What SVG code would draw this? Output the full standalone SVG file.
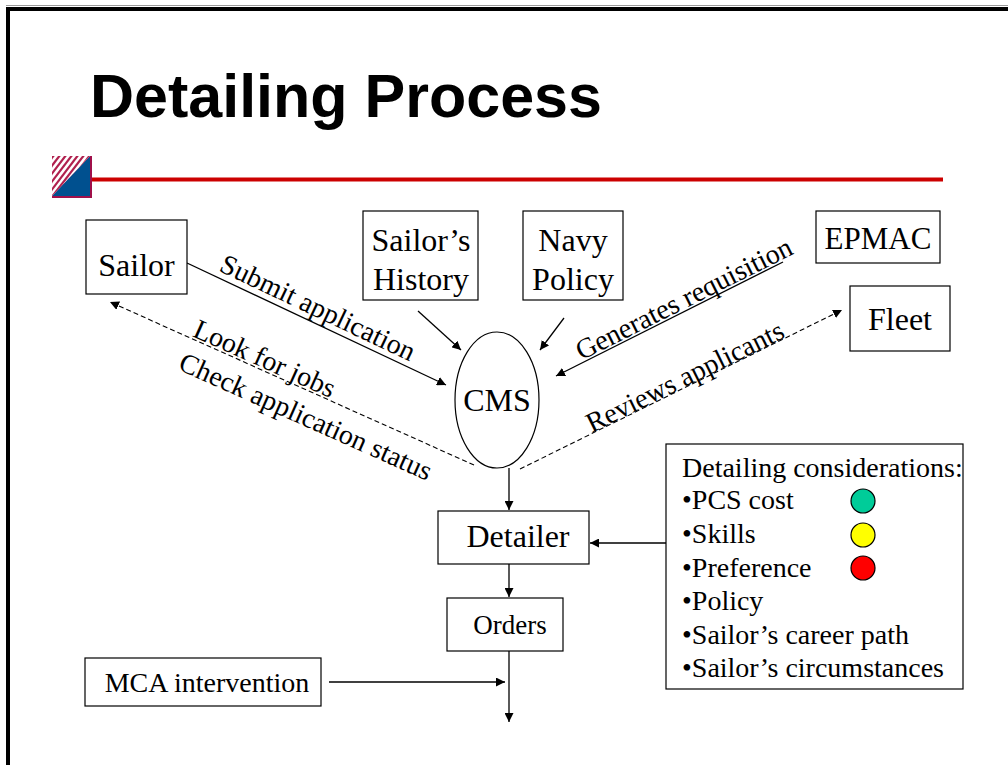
<svg xmlns="http://www.w3.org/2000/svg" width="1008" height="765" viewBox="0 0 1008 765">
<style>
.box{fill:#fff;stroke:#000;stroke-width:1.2}
.t{font-family:"Liberation Serif","Times New Roman",serif;fill:#000}
.c{stroke:#000;stroke-width:1.3;fill:none}
.d{stroke:#000;stroke-width:1.1;fill:none;stroke-dasharray:5 3}
</style>
<defs>
<marker id="ah" viewBox="0 0 10 10" refX="10" refY="5" markerWidth="9" markerHeight="9" markerUnits="userSpaceOnUse" orient="auto">
<path d="M0,0 L10,5 L0,10 z" fill="#000"/>
</marker>
<clipPath id="tri"><path d="M52,156 L90,156 L52,196 z"/></clipPath>
</defs>
<rect width="1008" height="765" fill="#fff"/>
<g id="frame">
<line x1="6" y1="5.5" x2="1008" y2="5.5" stroke="#999" stroke-width="1"/>
<line x1="6" y1="9" x2="1008" y2="9" stroke="#000" stroke-width="4"/>
<line x1="8" y1="7" x2="8" y2="765" stroke="#000" stroke-width="4"/>
</g>
<g id="title">
<text x="90" y="117" font-family="Liberation Sans,Arial,sans-serif" font-weight="bold" font-size="61" fill="#000">Detailing Process</text>
</g>
<g id="logo">
<rect x="52" y="156" width="40" height="42" fill="#a0104a"/>
<path d="M52,196 L90,156 L90,196 z" fill="#00508f"/>
<rect x="52" y="156" width="38" height="40" fill="#fff" clip-path="url(#tri)"/>
<g clip-path="url(#tri)" stroke="#b0204e" stroke-width="2.2">
<line x1="44" y1="168" x2="58" y2="150"/>
<line x1="44" y1="176" x2="64" y2="150"/>
<line x1="44" y1="184" x2="70" y2="150"/>
<line x1="44" y1="192" x2="76" y2="150"/>
<line x1="44" y1="200" x2="82" y2="150"/>
<line x1="48" y1="202" x2="88" y2="150"/>
<line x1="54" y1="202" x2="94" y2="150"/>
<line x1="60" y1="202" x2="100" y2="150"/>
</g>
<line x1="92" y1="179.5" x2="943" y2="179.5" stroke="#cc0000" stroke-width="4"/>
</g>
<g id="connectors">
<line class="c" x1="187" y1="263" x2="446" y2="385" marker-end="url(#ah)"/>
<line class="d" x1="474" y1="465" x2="110" y2="302" marker-end="url(#ah)"/>
<line class="c" x1="418" y1="311" x2="461" y2="350" marker-end="url(#ah)"/>
<line class="c" x1="564" y1="318" x2="540" y2="350" marker-end="url(#ah)"/>
<line class="c" x1="783" y1="262" x2="556" y2="376" marker-end="url(#ah)"/>
<line class="d" x1="520" y1="469" x2="842" y2="310" marker-end="url(#ah)"/>
<line class="c" x1="509" y1="468" x2="509" y2="510" marker-end="url(#ah)"/>
<line class="c" x1="666" y1="543" x2="590" y2="543" marker-end="url(#ah)"/>
<line class="c" x1="509" y1="564" x2="509" y2="597" marker-end="url(#ah)"/>
<line class="c" x1="509" y1="651" x2="509" y2="722" marker-end="url(#ah)"/>
<line class="c" x1="329" y1="682" x2="505" y2="682" marker-end="url(#ah)"/>
<text class="t" font-size="28" text-anchor="middle" transform="translate(314,316) rotate(25.4)">Submit application</text>
<text class="t" font-size="28" text-anchor="middle" transform="translate(261,367) rotate(24.1)">Look for jobs</text>
<text class="t" font-size="28" text-anchor="middle" transform="translate(302,425) rotate(24.1)">Check application status</text>
<text class="t" font-size="28" text-anchor="middle" transform="translate(688,307) rotate(-26.7)">Generates requisition</text>
<text class="t" font-size="28" text-anchor="middle" transform="translate(689,385) rotate(-26.3)">Reviews applicants</text>
</g>
<g id="sailor">
<rect class="box" x="86" y="220" width="101" height="74"/>
<text class="t" font-size="32" x="136.5" y="276" text-anchor="middle">Sailor</text>
</g>
<g id="history">
<rect class="box" x="363" y="211" width="115" height="89"/>
<text class="t" font-size="32" x="421" y="251" text-anchor="middle">Sailor’s</text>
<text class="t" font-size="32" x="421" y="290" text-anchor="middle">History</text>
</g>
<g id="policy">
<rect class="box" x="523" y="211" width="100" height="89"/>
<text class="t" font-size="32" x="573" y="251" text-anchor="middle">Navy</text>
<text class="t" font-size="32" x="573" y="290" text-anchor="middle">Policy</text>
</g>
<g id="epmac">
<rect class="box" x="816" y="211" width="124" height="52"/>
<text class="t" font-size="31" x="878" y="249" text-anchor="middle">EPMAC</text>
</g>
<g id="fleet">
<rect class="box" x="850" y="286" width="100" height="65"/>
<text class="t" font-size="32" x="900" y="330" text-anchor="middle">Fleet</text>
</g>
<g id="cms">
<ellipse class="box" cx="497" cy="400" rx="42" ry="68"/>
<text class="t" font-size="32" x="497" y="411" text-anchor="middle">CMS</text>
</g>
<g id="detailer">
<rect class="box" x="438" y="511" width="151" height="53"/>
<text class="t" font-size="32" x="518" y="547" text-anchor="middle">Detailer</text>
</g>
<g id="orders">
<rect class="box" x="447" y="598" width="116" height="53"/>
<text class="t" font-size="27" x="510" y="634" text-anchor="middle">Orders</text>
</g>
<g id="mca">
<rect class="box" x="85" y="658" width="236" height="48"/>
<text class="t" font-size="28" x="207" y="692" text-anchor="middle">MCA intervention</text>
</g>
<g id="considerations">
<rect class="box" x="666" y="444" width="297" height="245"/>
<text class="t" font-size="28">
<tspan x="682" y="477">Detailing considerations:</tspan>
<tspan x="682" y="509">•PCS cost</tspan>
<tspan x="682" y="543">•Skills</tspan>
<tspan x="682" y="577">•Preference</tspan>
<tspan x="682" y="610">•Policy</tspan>
<tspan x="682" y="644">•Sailor’s career path</tspan>
<tspan x="682" y="677">•Sailor’s circumstances</tspan>
</text>
<circle cx="863" cy="501" r="12" fill="#00cc99" stroke="#000" stroke-width="1.2"/>
<circle cx="863" cy="535" r="12" fill="#ffff00" stroke="#000" stroke-width="1.2"/>
<circle cx="863" cy="568" r="12" fill="#ff0000" stroke="#000" stroke-width="1.2"/>
</g>
</svg>
